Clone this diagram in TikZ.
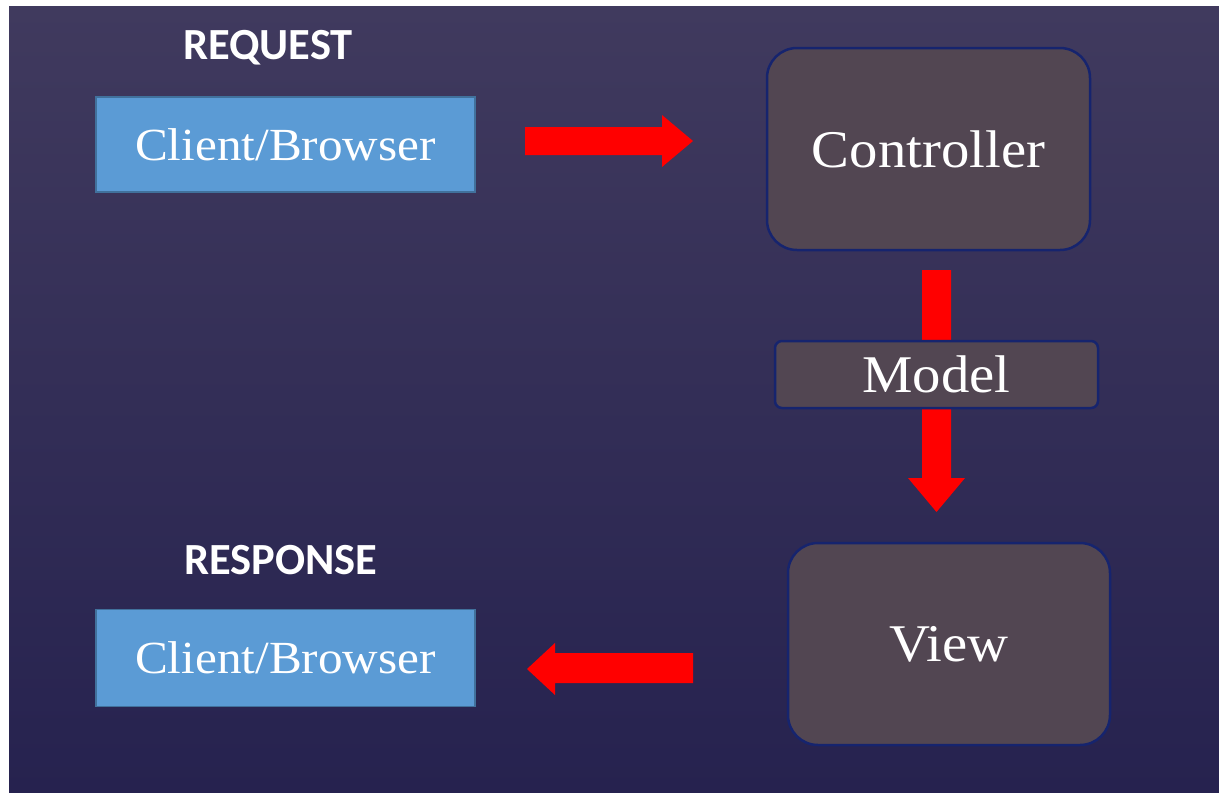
\documentclass[tikz,border=0pt]{standalone}
\usepackage{fontspec}
\setmainfont{Liberation Serif}
\newfontfamily\boxfont[FakeStretch=1.07]{Liberation Serif}
\newfontfamily\labelfont{Carlito}
\usetikzlibrary{positioning}
\definecolor{bgtop}{HTML}{403A5E}
\definecolor{bgbot}{HTML}{26224F}
\definecolor{boxfill}{HTML}{524652}
\definecolor{boxedge}{HTML}{16246E}
\definecolor{clientfill}{HTML}{5B9BD5}
\definecolor{clientedge}{HTML}{41719C}
\definecolor{arrowred}{HTML}{FF0000}
\tikzset{
  clientbox/.style={rectangle, fill=clientfill, draw=clientedge, line width=1.2pt,
    minimum width=379pt, minimum height=95pt, inner sep=0pt, text=white,
    font=\boxfont\fontsize{46}{50}\selectfont},
  mvcbox/.style={rectangle, rounded corners=30pt, fill=boxfill, draw=boxedge, line width=2.5pt,
    minimum width=323pt, minimum height=202pt, inner sep=0pt, text=white,
    font=\boxfont\fontsize{53}{58}\selectfont},
  headlabel/.style={anchor=base west, inner sep=0pt, text=white,
    font=\labelfont\bfseries\fontsize{44.5}{48}\selectfont},
  blockarrow/.style={fill=arrowred, draw=none}
}
\begin{document}
\begin{tikzpicture}[x=1pt,y=-1pt]
\useasboundingbox (0,0) rectangle (1219,793);
\fill[white] (0,0) rectangle (1219,793);
\shade[top color=bgtop, bottom color=bgbot] (9,6) rectangle (1219,793);

% labels
\node[headlabel] (req) at (183,59) {REQUEST};
\node[headlabel] (resp) at (184,574) {RESPONSE};

% boxes
\node[clientbox] (client1) at (285.5,144.5) {Client/Browser};
\node[clientbox, minimum height=97pt] (client2) at (285.5,658) {Client/Browser};
\node[mvcbox] (controller) at (928.5,149) {Controller};
\node[mvcbox, minimum width=322pt] (view) at (949,644) {View};

% arrows
\fill[blockarrow] (525,127) -- (662,127) -- (662,115) -- (693,141) -- (662,167) -- (662,155) -- (525,155) -- cycle;
\fill[blockarrow] (693,653) -- (555,653) -- (555,643) -- (527,669) -- (555,695) -- (555,683) -- (693,683) -- cycle;
\fill[blockarrow] (922,270) -- (951,270) -- (951,478) -- (965,478) -- (936.5,512) -- (908,478) -- (922,478) -- cycle;

% model box over arrow
\node[mvcbox, rounded corners=7pt, minimum height=67pt, font=\boxfont\fontsize{53}{56}\selectfont] (model) at (936.5,374.5) {Model};
\end{tikzpicture}
\end{document}
